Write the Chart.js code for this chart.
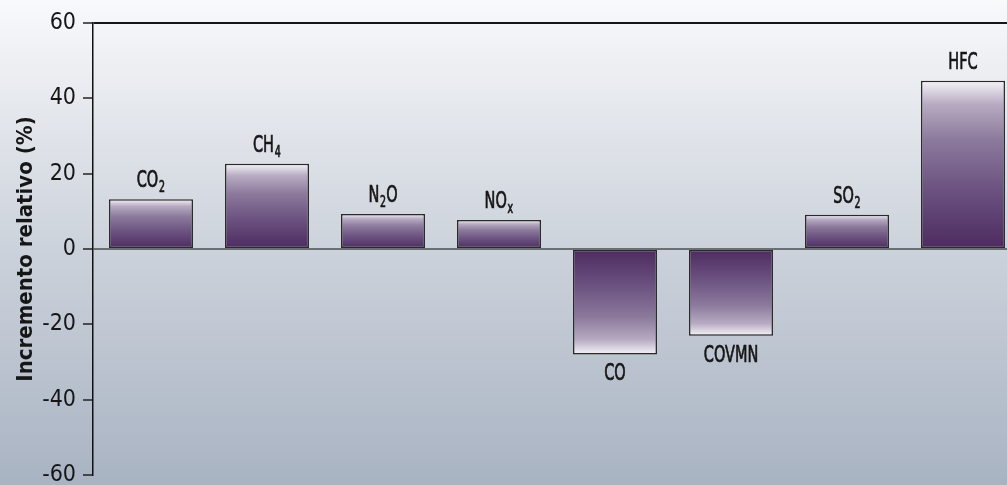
<!DOCTYPE html>
<html>
<head>
<meta charset="utf-8">
<script src="https://cdn.jsdelivr.net/npm/chart.js@4.4.1/dist/chart.umd.min.js"></script>
<style>
html, body { margin: 0; padding: 0; overflow: hidden; background: #f8f9fb; }
#wrap { width: 1030px; height: 500px; }
</style>
</head>
<body>
<div id="wrap"><canvas id="myChart"></canvas></div>
<script>
var gases = ['CO2', 'CH4', 'N2O', 'NOx', 'CO', 'COVMN', 'SO2', 'HFC'];
// label split into main part, subscript, and trailing part
var labelMain = ['CO', 'CH', 'N', 'NO', 'CO', 'COVMN', 'SO', 'HFC'];
var labelSub = ['2', '4', '2', 'x', '', '', '2', ''];
var labelTail = ['', '', 'O', '', '', '', '', ''];
var increment = [13.2, 22.6, 9.3, 7.7, -28, -23, 9.1, 44.7];
var yTicks = [-60, -40, -20, 0, 20, 40, 60];

var FONT = '"DejaVu Sans Condensed", "Liberation Sans Narrow", sans-serif';
var ctx = document.getElementById('myChart');

function barFill(c) {
  var chart = c.chart;
  if (!chart.chartArea || !chart.scales.y) return '#6a5080';
  var y = chart.scales.y;
  var y0 = y.getPixelForValue(0);
  var y1 = y.getPixelForValue(c.raw);
  var g = chart.ctx.createLinearGradient(0, y0, 0, y1);
  g.addColorStop(0, '#4d2a60');
  g.addColorStop(0.35, '#6b5280');
  g.addColorStop(0.65, '#8c7a9c');
  g.addColorStop(0.86, '#b7abc2');
  g.addColorStop(1, '#f6f4f8');
  return g;
}

var background = {
  id: 'background',
  beforeDraw: function (chart) {
    var c = chart.ctx;
    var g = c.createLinearGradient(0, 0, 0, chart.height);
    g.addColorStop(0, '#f8f9fb');
    g.addColorStop(0.5, '#ccd2db');
    g.addColorStop(1, '#a6b1c1');
    c.save();
    c.fillStyle = g;
    c.fillRect(0, 0, chart.width, chart.height);
    c.restore();
  }
};

function putText(c, s, x, y) {
  c.fillText(s, x, y);
  c.strokeText(s, x, y);
}

var barLabels = {
  id: 'barLabels',
  afterDatasetsDraw: function (chart) {
    var c = chart.ctx;
    var meta = chart.getDatasetMeta(0);
    var sx = 0.7;
    var big = '23px ' + FONT;
    var small = '15px ' + FONT;
    meta.data.forEach(function (bar, i) {
      var v = increment[i];
      c.save();
      c.fillStyle = '#161616';
      c.strokeStyle = '#161616';
      c.lineWidth = 0.7;
      c.textBaseline = 'alphabetic';
      c.font = big;
      var wMain = c.measureText(labelMain[i]).width * sx;
      var wTail = c.measureText(labelTail[i]).width * sx;
      c.font = small;
      var wSub = labelSub[i] ? c.measureText(labelSub[i]).width * sx + 1 : 0;
      var total = wMain + wSub + wTail;
      var base = v >= 0 ? bar.y - 12 : bar.y + 26;
      c.translate(bar.x - total / 2, base);
      c.scale(sx, 1);
      c.font = big;
      putText(c, labelMain[i], 0, 0);
      var px = wMain / sx;
      if (labelSub[i]) {
        c.font = small;
        putText(c, labelSub[i], px + 1, 5);
        px += wSub / sx;
      }
      if (labelTail[i]) {
        c.font = big;
        putText(c, labelTail[i], px, 0);
      }
      c.restore();
    });
  }
};

var myChart = new Chart(ctx, {
  type: 'bar',
  data: {
    labels: gases,
    datasets: [{
      label: 'Incremento relativo (%)',
      data: increment,
      backgroundColor: barFill,
      borderColor: '#2a2a2a',
      borderWidth: 1.5,
      borderSkipped: false,
      barPercentage: 0.724,
      categoryPercentage: 1
    }]
  },
  options: {
    maintainAspectRatio: false,
    animation: false,
    layout: { padding: { top: 23, right: 9, bottom: 25, left: 0 } },
    plugins: {
      legend: { display: false },
      tooltip: { enabled: false }
    },
    scales: {
      x: { display: false },
      y: {
        min: -60,
        max: 60,
        afterBuildTicks: function (s) {
          s.ticks = yTicks.map(function (v) { return { value: v }; });
        },
        afterFit: function (s) { s.width = 93; },
        border: { display: true, color: '#111', width: 1.5 },
        grid: {
          drawTicks: true,
          tickLength: 10,
          tickColor: '#222',
          tickWidth: 1.5,
          color: function (c) {
            if (!c.tick) return 'rgba(0,0,0,0)';
            if (c.tick.value === 60) return '#161616';
            if (c.tick.value === 0) return '#6b6f75';
            return 'rgba(0,0,0,0)';
          },
          lineWidth: 2
        },
        ticks: {
          padding: 7,
          color: '#161616',
          font: { family: FONT, size: 23 }
        },
        title: {
          display: true,
          text: 'Incremento relativo (%)',
          color: '#161616',
          padding: { top: 13, bottom: 0 },
          font: { family: FONT, size: 22, weight: 'bold' }
        }
      }
    }
  },
  plugins: [background, barLabels]
});
</script>
</body>
</html>
